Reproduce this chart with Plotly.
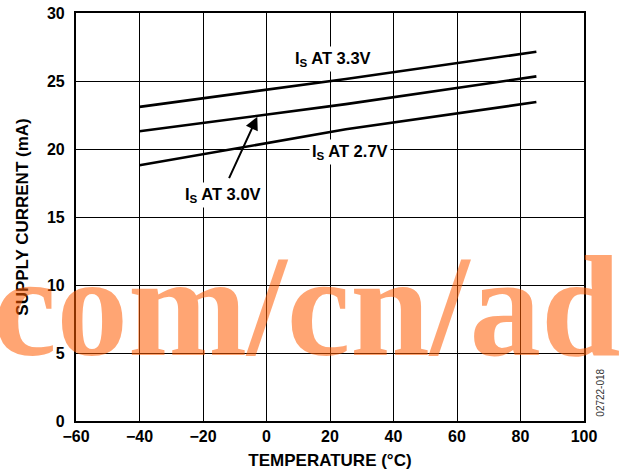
import plotly.graph_objects as go

temp = [-40, 25, 85]
is_33 = [23.1, 25.15, 27.15]
is_30 = [21.3, 23.3, 25.34]
is_27 = [18.8, 21.45, 23.45]

x_ticks = [-60, -40, -20, 0, 20, 40, 60, 80, 100]
y_ticks = [0, 5, 10, 15, 20, 25, 30]

W, H = 623, 473
L, R, T, B = 75.5, 39, 13.3, 51.7
PW, PH = W - L - R, H - T - B

fig = go.Figure()
for ys in (is_33, is_30, is_27):
    fig.add_trace(go.Scatter(x=temp, y=ys, mode="lines",
                             line=dict(color="black", width=2.6),
                             showlegend=False, hoverinfo="skip"))

SANS = "Liberation Sans, Arial"
lab_font = dict(family=SANS, size=16.5, color="black", weight="bold")

def add_label(txt, x, y):
    fig.add_annotation(x=x, y=y, xref="x", yref="y", text=txt, showarrow=False,
                       font=lab_font, bgcolor="white", borderpad=2,
                       xanchor="center", yanchor="middle")

add_label("I<sub>S</sub> AT 3.3V", 21.1, 26.6)
add_label("I<sub>S</sub> AT 2.7V", 26.4, 19.8)
add_label("I<sub>S</sub> AT 3.0V", -13.6, 16.6)

# arrow to the 3.0V curve
fig.add_annotation(x=-2.9, y=22.37, ax=-12.0, ay=17.75, xref="x", yref="y",
                   axref="x", ayref="y", text="", showarrow=True,
                   arrowhead=2, arrowsize=1.3, arrowwidth=2, arrowcolor="black")

# figure id
fig.add_annotation(x=(601 - L) / PW, y=(421.3 - 393) / PH, xref="paper", yref="paper",
                   text="02722-018", showarrow=False, textangle=-90,
                   font=dict(family=SANS, size=10, color="#333"),
                   xanchor="center", yanchor="middle")

# watermark
fig.add_annotation(x=(326 - L) / PW, y=8.4, xref="paper", yref="y",
                   text="com/cn/adi", showarrow=False,
                   font=dict(family="Liberation Serif, Times New Roman", size=143,
                             color="rgba(255,91,0,0.55)", weight="bold"),
                   xanchor="center", yanchor="middle")

tick_font = dict(family=SANS, size=16, color="black", weight="bold")
title_font = dict(family=SANS, size=17, color="black", weight="bold")
axis_common = dict(showgrid=True, gridcolor="black", gridwidth=1.3,
                   showline=True, linecolor="black", linewidth=2.2, mirror=True,
                   ticks="", zeroline=False, automargin=False, tickfont=tick_font)

fig.update_xaxes(range=[-60, 100], tickvals=x_ticks, **axis_common,
                 title=dict(text="TEMPERATURE (°C)", standoff=10, font=title_font))
fig.update_yaxes(range=[0, 30], tickvals=y_ticks, **axis_common, ticklabelstandoff=6,
                 title=dict(text="SUPPLY CURRENT (mA)", standoff=14, font=title_font))

fig.update_layout(width=W, height=H, margin=dict(l=L, r=R, t=T, b=B),
                  plot_bgcolor="white", paper_bgcolor="white")

fig.write_html("out.html")
